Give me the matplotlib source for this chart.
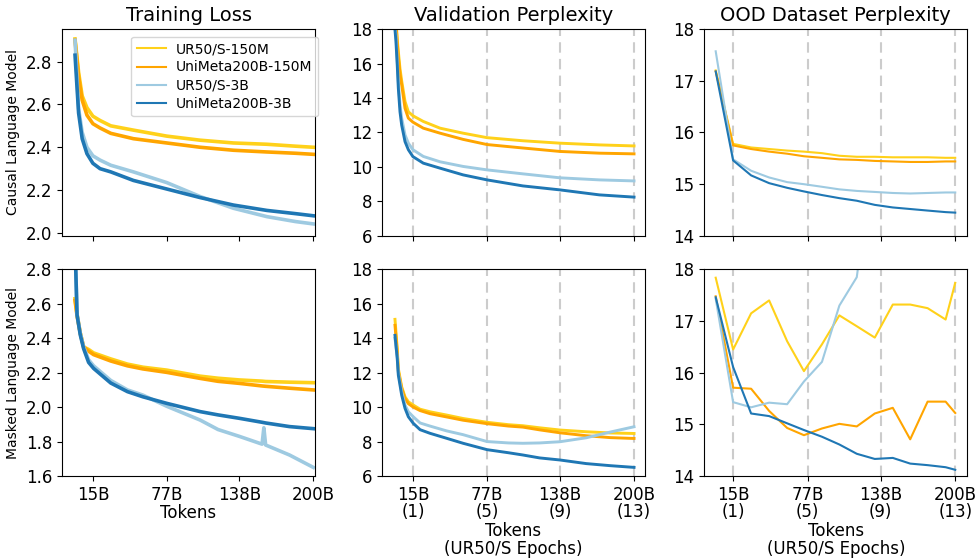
import matplotlib
matplotlib.use("Agg")
import matplotlib.pyplot as plt

# ---------------- data ----------------
series_names = ["UR50/S-150M", "UniMeta200B-150M", "UR50/S-3B", "UniMeta200B-3B"]
series_colors = ["#FFD11A", "#FFA500", "#9ECAE1", "#1F77B4"]

tick_tokens = [15, 77, 138, 200]
tick_labels_tokens = ["15B", "77B", "138B", "200B"]
tick_labels_epochs = ["15B\n(1)", "77B\n(5)", "138B\n(9)", "200B\n(13)"]

# Training loss, causal LM
clm_train_tokens = [0, 3, 6, 10, 15, 21, 30, 49, 77, 105, 133, 161, 185, 200]
clm_train_ur50_150m = [2.906, 2.75, 2.64, 2.585, 2.545, 2.525, 2.50, 2.48, 2.452, 2.433, 2.42, 2.414, 2.405, 2.40]
clm_train_uni_150m = [2.90, 2.73, 2.62, 2.55, 2.51, 2.49, 2.465, 2.44, 2.42, 2.40, 2.386, 2.378, 2.372, 2.367]
clm_train_ur50_3b = [2.90, 2.58, 2.47, 2.40, 2.36, 2.34, 2.316, 2.285, 2.235, 2.17, 2.115, 2.076, 2.053, 2.042]
clm_train_uni_3b = [2.83, 2.56, 2.44, 2.37, 2.325, 2.30, 2.285, 2.245, 2.205, 2.165, 2.13, 2.105, 2.09, 2.08]

# Training loss, masked LM
mlm_train_tokens = [0, 1.7, 4.4, 7.2, 11.4, 15.6, 30, 44, 57, 77, 105, 120, 138, 157, 158.5, 160, 180, 200]
mlm_train_ur50_150m = [2.63, 2.54, 2.43, 2.35, 2.335, 2.315, 2.28, 2.25, 2.232, 2.215, 2.18, 2.168, 2.158, 2.151, 2.15, 2.149, 2.145, 2.142]
mlm_train_uni_150m = [2.62, 2.53, 2.43, 2.35, 2.325, 2.305, 2.268, 2.24, 2.222, 2.202, 2.167, 2.15, 2.138, 2.123, 2.122, 2.121, 2.11, 2.10]
mlm_train_ur50_3b = [2.95, 2.54, 2.43, 2.35, 2.275, 2.24, 2.155, 2.10, 2.07, 2.005, 1.925, 1.87, 1.83, 1.785, 1.88, 1.78, 1.722, 1.65]
mlm_train_uni_3b = [2.95, 2.535, 2.42, 2.34, 2.26, 2.225, 2.14, 2.09, 2.06, 2.022, 1.974, 1.955, 1.935, 1.912, 1.91, 1.908, 1.887, 1.875]

# Validation perplexity, causal LM
clm_val_tokens = [0, 0.8, 1.9, 2.8, 4.2, 5.6, 8.4, 11.2, 15, 23.7, 37.7, 57, 77, 107, 138, 171, 200]
clm_val_ur50_150m = [19.5, 18.6, 17.4, 16.7, 15.7, 15.0, 13.8, 13.2, 12.97, 12.64, 12.25, 11.96, 11.7, 11.52, 11.38, 11.28, 11.22]
clm_val_uni_150m = [19.3, 18.4, 17.2, 16.4, 15.4, 14.77, 13.4, 12.83, 12.6, 12.25, 11.96, 11.6, 11.3, 11.1, 10.9, 10.8, 10.76]
clm_val_ur50_3b = [18.2, 17.67, 16.2, 14.96, 13.6, 12.83, 11.86, 11.38, 11.0, 10.61, 10.3, 10.03, 9.83, 9.6, 9.37, 9.25, 9.19]
clm_val_uni_3b = [17.96, 17.3, 15.9, 14.57, 13.2, 12.43, 11.47, 11.0, 10.6, 10.22, 9.93, 9.54, 9.25, 8.9, 8.67, 8.38, 8.25]

# Validation perplexity, masked LM
mlm_val_tokens = [0, 1.9, 2.8, 5.6, 8.4, 11.2, 15.3, 21, 29.3, 43.2, 57, 77, 95, 107, 121, 138, 160, 180, 200]
mlm_val_ur50_150m = [15.1, 13.4, 12.24, 11.18, 10.6, 10.31, 10.12, 9.88, 9.73, 9.54, 9.34, 9.12, 8.98, 8.92, 8.8, 8.67, 8.57, 8.5, 8.47]
mlm_val_uni_150m = [14.75, 13.2, 12.1, 11.1, 10.5, 10.2, 10.0, 9.8, 9.62, 9.43, 9.24, 9.04, 8.9, 8.84, 8.68, 8.51, 8.34, 8.23, 8.18]
mlm_val_ur50_3b = [14.0, 12.9, 12.0, 10.89, 10.12, 9.73, 9.44, 9.08, 8.9, 8.62, 8.4, 8.0, 7.92, 7.9, 7.92, 7.99, 8.22, 8.55, 8.86]
mlm_val_uni_3b = [14.17, 12.82, 11.86, 10.7, 9.93, 9.44, 9.06, 8.69, 8.48, 8.19, 7.9, 7.53, 7.35, 7.22, 7.05, 6.93, 6.72, 6.6, 6.5]

# OOD dataset perplexity (checkpoints)
ood_tokens = [0.5, 15, 30, 45, 60, 74, 89, 103.5, 118, 133, 148, 162.5, 177, 192, 200]
clm_ood_ur50_150m = [17.2, 15.78, 15.71, 15.68, 15.65, 15.63, 15.6, 15.55, 15.53, 15.53, 15.52, 15.52, 15.52, 15.51, 15.51]
clm_ood_uni_150m = [17.18, 15.75, 15.68, 15.63, 15.59, 15.54, 15.51, 15.48, 15.47, 15.45, 15.44, 15.43, 15.43, 15.44, 15.44]
clm_ood_ur50_3b = [17.57, 15.48, 15.26, 15.13, 15.04, 15.0, 14.95, 14.9, 14.87, 14.85, 14.83, 14.82, 14.83, 14.84, 14.84]
clm_ood_uni_3b = [17.18, 15.46, 15.17, 15.02, 14.93, 14.86, 14.79, 14.73, 14.68, 14.6, 14.55, 14.52, 14.49, 14.46, 14.45]

mlm_ood_ur50_150m = [17.84, 16.45, 17.15, 17.40, 16.61, 16.03, 16.55, 17.11, 16.90, 16.68, 17.32, 17.32, 17.25, 17.03, 17.74]
mlm_ood_uni_150m = [17.48, 15.71, 15.69, 15.26, 14.93, 14.79, 14.92, 15.01, 14.96, 15.21, 15.32, 14.71, 15.44, 15.44, 15.22]
mlm_ood_ur50_3b = [17.43, 15.43, 15.33, 15.42, 15.39, 15.83, 16.21, 17.30, 17.85, 20.5, 21.5, 22.5, 23.5, 24.5, 25.0]
mlm_ood_uni_3b = [17.46, 16.11, 15.21, 15.16, 15.02, 14.89, 14.76, 14.61, 14.43, 14.33, 14.35, 14.24, 14.21, 14.17, 14.12]

# ---------------- plotting ----------------
plt.rcParams['font.family'] = ['DejaVu Sans']
fig = plt.figure(figsize=(9.77, 5.59), dpi=100)

cols = [(0.0635, 0.259), (0.3907, 0.2695), (0.721, 0.269)]
rows = [(0.578, 0.370), (0.1485, 0.3695)]

axes = [[fig.add_axes([c[0], r[0], c[1], r[1]]) for c in cols] for r in rows]

panels = [
    [(clm_train_tokens, [clm_train_ur50_150m, clm_train_uni_150m, clm_train_ur50_3b, clm_train_uni_3b]),
     (clm_val_tokens, [clm_val_ur50_150m, clm_val_uni_150m, clm_val_ur50_3b, clm_val_uni_3b]),
     (ood_tokens, [clm_ood_ur50_150m, clm_ood_uni_150m, clm_ood_ur50_3b, clm_ood_uni_3b])],
    [(mlm_train_tokens, [mlm_train_ur50_150m, mlm_train_uni_150m, mlm_train_ur50_3b, mlm_train_uni_3b]),
     (mlm_val_tokens, [mlm_val_ur50_150m, mlm_val_uni_150m, mlm_val_ur50_3b, mlm_val_uni_3b]),
     (ood_tokens, [mlm_ood_ur50_150m, mlm_ood_uni_150m, mlm_ood_ur50_3b, mlm_ood_uni_3b])],
]

line_widths = [2.6, 2.1, 1.5]
xlims = [(-10.9, 201.5), (-11.1, 209.2), (-8.9, 210.0)]
ylims = [[(1.986, 2.952), (6, 18), (14, 18)], [(1.6, 2.8), (6, 18), (14, 18)]]
yticks = [[[2.0, 2.2, 2.4, 2.6, 2.8], list(range(6, 19, 2)), [14, 15, 16, 17, 18]],
          [[1.6, 1.8, 2.0, 2.2, 2.4, 2.6, 2.8], list(range(6, 19, 2)), [14, 15, 16, 17, 18]]]

for r in range(2):
    for c in range(3):
        ax = axes[r][c]
        xs, ys_list = panels[r][c]
        if c > 0:
            for t in tick_tokens:
                ax.axvline(t, color="#cccccc", linestyle=(0, (5, 3)), linewidth=1.5, zorder=0)
        for name, col, ys in zip(series_names, series_colors, ys_list):
            ax.plot(xs, ys, color=col, linewidth=line_widths[c], label=name)
        ax.set_xlim(*xlims[c])
        ax.set_ylim(*ylims[r][c])
        ax.set_yticks(yticks[r][c])
        if c == 0:
            ax.set_yticklabels([f"{v:.1f}" for v in yticks[r][c]])
        ax.set_xticks(tick_tokens)
        if r == 0:
            ax.set_xticklabels([])
        else:
            labels = ax.set_xticklabels(tick_labels_tokens if c == 0 else tick_labels_epochs)
            for lb in labels:
                lb.set_linespacing(0.95)
        ax.tick_params(labelsize=12)

axes[0][0].set_title("Training Loss", fontsize=14)
axes[0][1].set_title("Validation Perplexity", fontsize=14)
axes[0][2].set_title("OOD Dataset Perplexity", fontsize=14)
axes[0][0].set_ylabel("Causal Language Model", fontsize=10)
axes[1][0].set_ylabel("Masked Language Model", fontsize=10)
axes[1][0].set_xlabel("Tokens", fontsize=12, labelpad=0)
for ax in (axes[1][1], axes[1][2]):
    ax.set_xlabel("Tokens\n(UR50/S Epochs)", fontsize=12, labelpad=1, linespacing=0.95)

leg = axes[0][0].legend(loc="upper right", fontsize=10, handlelength=2.1,
                        bbox_to_anchor=(318.3 / 977, 1 - 36.7 / 559),
                        bbox_transform=fig.transFigure, borderaxespad=0.0,
                        handletextpad=0.75, labelspacing=0.3, borderpad=0.4)
for ln in leg.get_lines():
    ln.set_linewidth(1.5)

fig.savefig("out.png", dpi=100)
